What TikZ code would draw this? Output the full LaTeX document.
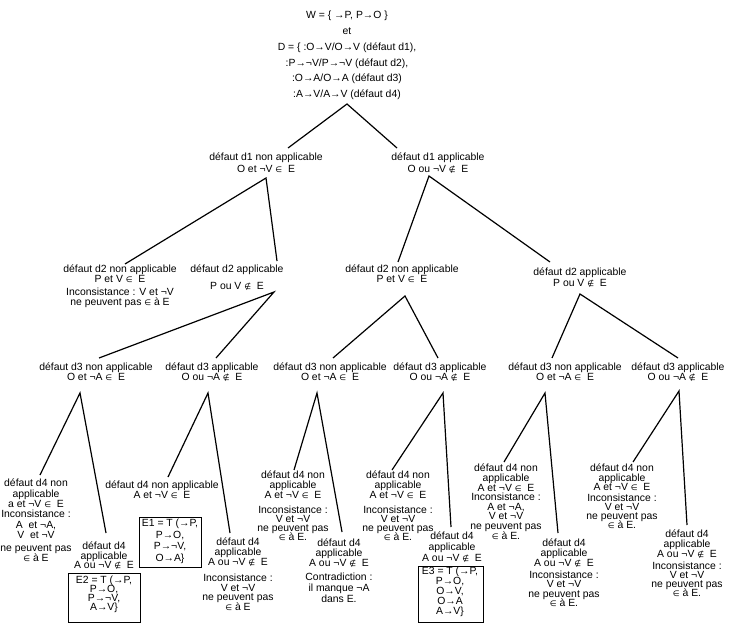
\documentclass[tikz,border=0pt]{standalone}
\usepackage{fontspec}
\setmainfont{Liberation Sans}
\newfontfamily\symf[Scale=0.75]{DejaVu Sans}
\newcommand\IN{{\symf ∈}}
\newcommand\NIN{{\symf ∉}}
\tikzset{
  txt/.style={align=center, inner sep=0pt, anchor=north,
    font=\fontsize{10.4}{#1}\selectfont},
  txt/.default=10,
  ln/.style={line width=1.2pt},
  ebox/.style={draw, line width=1.2pt, inner sep=0pt, anchor=north west}
}
\begin{document}
\lineskiplimit=-20pt
\begin{tikzpicture}[x=1pt,y=-1pt]
\useasboundingbox (0,0) rectangle (736,623);
% top
\node[txt=15.8] (top) at (347,11) {W = \{ →P, P→O \}\\et\\D = \{ :O→V/O→V (défaut d1),\\:P→¬V/P→¬V (défaut d2),\\:O→A/O→A (défaut d3)\\:A→V/A→V (défaut d4)};
% level 1
\node[txt=12] (d1n) at (266,153) {défaut d1 non applicable\\O et ¬V \IN{}~ E};
\node[txt=12] (d1a) at (438,153) {défaut d1 applicable\\O ou ¬V \NIN{}~ E};
% level 2
\node[txt=10] (d2n1) at (120,265) {défaut d2 non applicable\\P et V \IN{}~ E\\[3pt]Inconsistance : V et ¬V\\ne peuvent pas \IN{} à E};
\node[txt=10] (d2a1) at (237,265) {défaut d2 applicable\\[7pt]P ou V \NIN{}~ E};
\node[txt=10] (d2n2) at (402,265) {défaut d2 non applicable\\P et V \IN{}~ E};
\node[txt=11] (d2a2) at (580,268) {défaut d2 applicable\\P ou V \NIN{}~ E};
% level 3
\node[txt=10] (d3A) at (96,363) {défaut d3 non applicable\\O et ¬A \IN{}~ E};
\node[txt=10] (d3B) at (212,363) {défaut d3 applicable\\O ou ¬A \NIN{}~ E};
\node[txt=10] (d3C) at (330,363) {défaut d3 non applicable\\O et ¬A \IN{}~ E};
\node[txt=10] (d3D) at (440,363) {défaut d3 applicable\\O ou ¬A \NIN{}~ E};
\node[txt=10] (d3E) at (565,363) {défaut d3 non applicable\\O et ¬A \IN{}~ E};
\node[txt=10] (d3F) at (678,363) {défaut d3 applicable\\O ou ¬A \NIN{}~ E};
% level 4 - A
\node[txt=10.3] (a4n) at (36,479) {défaut d4 non\\applicable\\a et ¬V \IN{}~ E\\Inconsistance :\\A~ et ¬A,\\V~ et ¬V\\[3pt]ne peuvent pas\\\IN{} à E};
\node[txt=9.5] (a4a) at (104,542) {défaut d4\\applicable\\A ou ¬V \NIN{}~ E};
\node[ebox, minimum width=72pt, minimum height=48.5pt] (e2) at (68,573) {};
\node[txt=9] (e2t) at (104,576) {E2 = T (→P,\\P→O,\\P→¬V,\\A→V\}};
% level 4 - B
\node[txt=10] (b4n) at (162,481) {défaut d4 non applicable\\A et ¬V \IN{}~ E};
\node[ebox, minimum width=62pt, minimum height=50pt] (e1) at (139,517) {};
\node[txt=11.5] (e1t) at (170,519) {E1 = T (→P,\\P→O,\\P→¬V,\\O→A\}};
\node[txt=9.8] (b4a) at (238,538) {défaut d4\\applicable\\A ou ¬V \NIN{}~ E\\[6pt]Inconsistance :\\V et ¬V\\ne peuvent pas\\\IN{} à E};
% level 4 - C
\node[txt=10] (c4n) at (293,471) {défaut d4 non\\applicable\\A et ¬V \IN{}~ E\\[5pt]Inconsistance :\\[-1pt]V et ¬V\\[-1pt]ne peuvent pas\\[-1pt]\IN{} à E.};
\node[txt=10] (c4a) at (339,539) {défaut d4\\applicable\\A ou ¬V \NIN{}~ E\\[4pt]Contradiction :\\[1pt]il manque ¬A\\[1pt]dans E.};
% level 4 - D
\node[txt=10] (d4n) at (398,471) {défaut d4 non\\applicable\\A et ¬V \IN{}~ E\\[5pt]Inconsistance :\\[-1pt]V et ¬V\\[-1pt]ne peuvent pas\\[-1pt]\IN{} à E.};
\node[txt=11] (d4a) at (452,532) {défaut d4\\applicable\\A ou ¬V \NIN{}~ E};
\node[ebox, minimum width=65pt, minimum height=56pt] (e3) at (418,566) {};
\node[txt=10] (e3t) at (450,566.5) {E3 = T (→P,\\P→O,\\O→V,\\O→A\\A→V\}};
% level 4 - E
\node[txt=9.6] (e4n) at (506,464) {défaut d4 non\\applicable\\A et ¬V \IN{}~ E\\Inconsistance :\\A et ¬A,\\V et ¬V\\ne peuvent pas\\\IN{} à E.};
\node[txt=10] (e4a) at (564,539) {défaut d4\\applicable\\A ou ¬V \NIN{}~ E\\[2pt]Inconsistance :\\[-1pt]V et ¬V\\[-0.5pt]ne peuvent pas\\[-0.5pt]\IN{} à E.};
% level 4 - F
\node[txt=9.5] (f4n) at (622,464) {défaut d4 non\\applicable\\A et ¬V \IN{}~ E\\[1.5pt]Inconsistance :\\[-0.5pt]V et ¬V\\[-0.5pt]ne peuvent pas\\[-0.5pt]\IN{} à E.};
\node[txt=10] (f4a) at (687,530) {défaut d4\\applicable\\A ou ¬V \NIN{}~ E\\[1.5pt]Inconsistance :\\[-1pt]V et ¬V\\[-1pt]ne peuvent pas\\[-0.5pt]\IN{} à E.};
% connector points
\coordinate (p0) at (347,104); \coordinate (p0l) at (288,148); \coordinate (p0r) at (397,148);
\coordinate (p1) at (266,178); \coordinate (p1l) at (125,264); \coordinate (p1r) at (277,261);
\coordinate (p2) at (429,176); \coordinate (p2l) at (398,262); \coordinate (p2r) at (550,262);
\coordinate (p3) at (274,292); \coordinate (p3l) at (99,358);  \coordinate (p3r) at (216,358);
\coordinate (p4) at (405,296); \coordinate (p4l) at (333,358); \coordinate (p4r) at (438,358);
\coordinate (p5) at (580,294); \coordinate (p5l) at (552,358); \coordinate (p5r) at (678,358);
\coordinate (qA) at (80,393);  \coordinate (qAl) at (40,475);  \coordinate (qAr) at (106,533);
\coordinate (qB) at (208,393); \coordinate (qBl) at (168,477); \coordinate (qBr) at (230,533);
\coordinate (qC) at (317,393); \coordinate (qCl) at (294,470); \coordinate (qCr) at (342,532);
\coordinate (qD) at (443,393); \coordinate (qDl) at (392,470); \coordinate (qDr) at (451,527);
\coordinate (qE) at (545,393); \coordinate (qEl) at (504,462); \coordinate (qEr) at (558,533);
\coordinate (qF) at (679,391); \coordinate (qFl) at (633,462); \coordinate (qFr) at (687,525);
\foreach \p in {p0,p1,p2,p3,p4,p5,qA,qB,qC,qD,qE,qF}
  \draw[ln] (\p l) -- (\p) -- (\p r);
\end{tikzpicture}
\end{document}
